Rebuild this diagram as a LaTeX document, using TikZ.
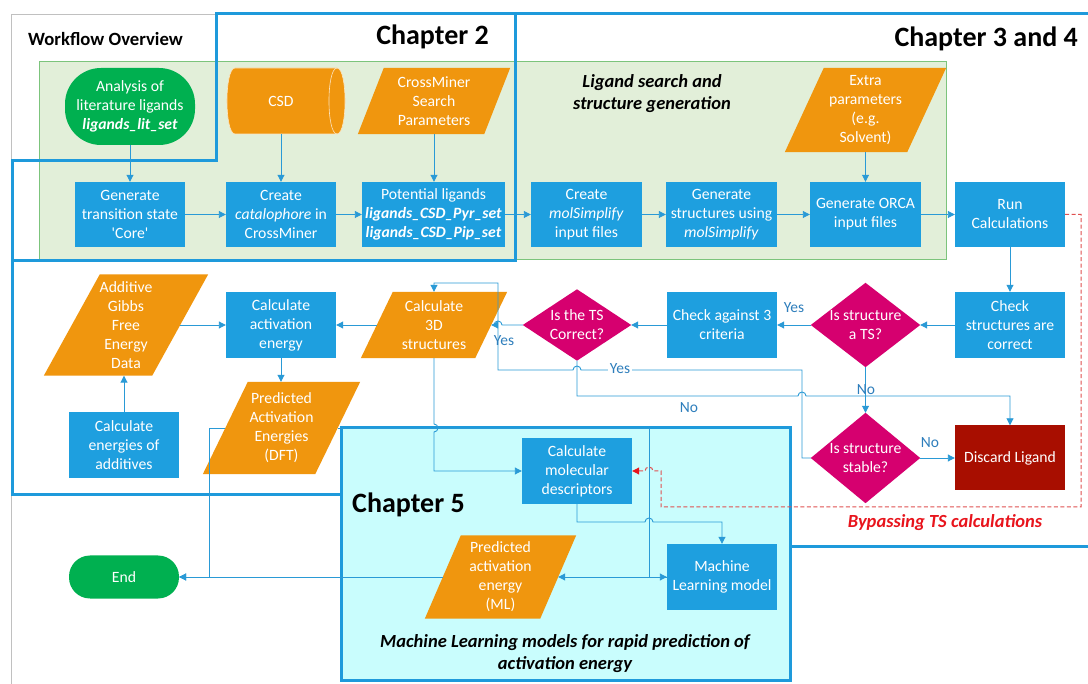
\documentclass[tikz,border=0pt]{standalone}
\usepackage{fontspec}
\setmainfont{Carlito}
\usetikzlibrary{arrows.meta,calc}
\pgfdeclarelayer{back}
\pgfdeclarelayer{mid}
\pgfsetlayers{back,mid,main}

\definecolor{boxblue}{HTML}{1E9FDF}
\definecolor{boxorange}{HTML}{F0960E}
\definecolor{boxmag}{HTML}{D6006F}
\definecolor{termgreen}{HTML}{00B050}
\definecolor{discardred}{HTML}{A80E00}
\definecolor{regiongreen}{HTML}{E2EFD9}
\definecolor{regionedge}{HTML}{7CC47C}
\definecolor{chfivefill}{HTML}{C9FDFD}
\definecolor{chapblue}{HTML}{1E9ADB}
\definecolor{linkblue}{HTML}{2A9AD6}
\definecolor{labelblue}{HTML}{2E7EBC}
\definecolor{bypassred}{HTML}{E8141C}
\definecolor{dashred}{HTML}{E05050}
\definecolor{framegray}{HTML}{C0C0C0}

% data symbol: a named holder node with a slanted orange body behind it
\newcommand\mkpara[6]{%
  \node[txt,minimum width=#3,minimum height=#4] (#1) at #2 {#6};
  \begin{pgfonlayer}{mid}
    \fill[boxorange] ([xshift=#5/2]#1.north west) -- ([xshift=#5/2]#1.north east)
      -- ([xshift=-#5/2]#1.south east) -- ([xshift=-#5/2]#1.south west) -- cycle;
  \end{pgfonlayer}}
% decision symbol: corners sit on the holder node's edge midpoints
\newcommand\mkdiamond[5]{%
  \node[txt,minimum width=#3,minimum height=#4] (#1) at #2 {#5};
  \begin{pgfonlayer}{mid}
    \fill[boxmag] (#1.north) -- (#1.east) -- (#1.south) -- (#1.west) -- cycle;
  \end{pgfonlayer}}

\begin{document}
\begin{tikzpicture}[x=1pt,y=-1pt,
  txt/.style={text=white,font=\fontsize{15.7}{19}\selectfont,align=center,inner sep=0pt},
  stepbox/.style={txt,rectangle,fill=boxblue,minimum width=110,minimum height=66},
  termbox/.style={txt,rectangle,fill=termgreen},
  link/.style={draw=linkblue,line width=0.9pt},
  arr/.style={link,-{Triangle[length=7pt,width=7pt]}},
  lbl/.style={text=labelblue,font=\fontsize{15.5}{18}\selectfont,inner sep=1pt},
  chapter/.style={draw=chapblue,line width=3pt},
  heading/.style={font=\fontsize{28}{33}\selectfont\bfseries,inner sep=0pt},
  caption/.style={font=\fontsize{18.5}{22}\selectfont\bfseries\itshape,align=center,inner sep=0pt},
]
\useasboundingbox (0,0) rectangle (1088,684);

% ---- regions and chapter outlines
\begin{pgfonlayer}{back}
  \fill[white] (0,0) rectangle (1088,684);
  \draw[framegray,line width=1pt] (216,15) -- (11,15) -- (11,684);
  \filldraw[fill=regiongreen,draw=regionedge,line width=0.8pt] (39,61) rectangle (946,259);
  \filldraw[fill=chfivefill,chapter] (341,428) rectangle (790,680);
  \draw[chapter] (216,14) -- (515,14) -- (515,261) -- (12,261) -- (12,161) -- (216,161) -- cycle;
  \draw[chapter] (515,14) -- (1088,14);
  \draw[chapter] (12,261) -- (12,495) -- (341,495);
  \draw[chapter] (790,547) -- (1088,547);
\end{pgfonlayer}

% ---- headings and captions
\node[font=\fontsize{18.7}{22}\selectfont\bfseries,anchor=west,inner sep=0pt] (wo) at (28,39) {Workflow Overview};
\node[heading,anchor=east] (chtwo) at (489,37) {Chapter 2};
\node[heading,anchor=east] (chthree) at (1078,39) {Chapter 3 and 4};
\node[heading,anchor=west] (chfive) at (352,505) {Chapter 5};
\node[caption] (lsg) at (652,94) {Ligand search and\\structure generation};
\node[caption] (mlcap) at (565,653.5) {Machine Learning models for rapid prediction of\\activation energy};
\node[caption,text=bypassred] (bypass) at (945,523) {Bypassing TS calculations};

% ---- inputs of the search
\node[termbox,minimum width=130,minimum height=77,rounded corners=36] (lit) at (130,106.5)
  {Analysis of\\literature ligands\\\textbf{\textit{ligands\_lit\_set}}};
\node[txt,minimum width=110,minimum height=66] (csd) at (281,101) {CSD};
\begin{pgfonlayer}{mid}
  \filldraw[fill=boxorange,draw=white!75!boxorange,line width=0.6pt]
    (235,68) -- (337,68) .. controls (347.7,68) and (347.7,134) .. (337,134)
    -- (235,134) .. controls (224.3,134) and (224.3,68) .. (235,68) -- cycle;
  \draw[white!75!boxorange,line width=0.6pt] (337,68) .. controls (326.3,68) and (326.3,134) .. (337,134);
\end{pgfonlayer}
\mkpara{cms}{(434,101)}{126}{66}{26}{CrossMiner\\Search\\Parameters}
\mkpara{extra}{(865.5,110)}{122}{84}{39}{Extra\\parameters\\(e.g.\\Solvent)}

% ---- top row
\node[stepbox,minimum height=65] (gen) at (130,214.5) {Generate\\transition state\\\textquotesingle Core\textquotesingle};
\node[stepbox,minimum height=65] (create) at (281,214.5) {Create\\\textit{catalophore} in\\CrossMiner};
\node[stepbox,minimum height=65,minimum width=143] (pot) at (433.5,214.5)
  {Potential ligands\\\textbf{\textit{ligands\_CSD\_Pyr\_set}}\\\textbf{\textit{ligands\_CSD\_Pip\_set}}};
\node[stepbox,minimum height=65,minimum width=111] (mols) at (586.5,214.5) {Create\\\textit{molSimplify}\\input files};
\node[stepbox,minimum height=65,minimum width=111] (gstr) at (721.5,214.5) {Generate\\structures using\\\textit{molSimplify}};
\node[stepbox,minimum height=65,minimum width=111] (orca) at (865.5,214.5) {Generate ORCA\\input files};
\node[stepbox,minimum height=65] (run) at (1010,214.5) {Run\\Calculations};

% ---- second row
\mkpara{additive}{(126,325)}{108}{101}{56}{Additive\\Gibbs\\Free\\Energy\\Data}
\node[stepbox] (calcact) at (281,325) {Calculate\\activation\\energy};
\mkpara{calcthree}{(434,325)}{114}{66}{32}{Calculate\\3D\\structures}
\mkdiamond{tsok}{(577,325)}{108}{71}{Is the TS\\Correct?}
\node[stepbox] (chkthree) at (722,325) {Check against 3\\criteria};
\mkdiamond{ists}{(865.5,325)}{109}{84}{Is structure\\a TS?}
\node[stepbox] (chks) at (1010,325) {Check\\structures are\\correct};

% ---- third row
\mkpara{dft}{(281.5,428)}{112}{92}{45}{Predicted\\Activation\\Energies\\(DFT)}
\node[stepbox] (energies) at (124,445) {Calculate\\energies of\\additives};
\node[stepbox] (desc) at (577,471) {Calculate\\molecular\\descriptors};
\mkdiamond{stable}{(865.5,458)}{109}{90}{Is structure\\stable?}
\node[stepbox,fill=discardred,minimum height=65] (discard) at (1010,458) {Discard Ligand};

% ---- bottom row
\node[termbox,minimum width=110,minimum height=43,rounded corners=21] (end) at (124,577) {End};
\mkpara{predml}{(500.5,577)}{115}{83}{36}{Predicted\\activation\\energy\\(ML)};
\node[stepbox] (ml) at (722,577) {Machine\\Learning model};

% ---- connectors
\draw[arr] (lit) -- (gen);
\draw[arr] (csd) -- (create);
\draw[arr] (cms.south) -- (cms.south |- pot.north);
\draw[arr] (extra.south) -- (extra.south |- orca.north);
\draw[arr] (gen) -- (create);
\draw[arr] (create) -- (pot);
\draw[arr] (pot) -- (mols);
\draw[arr] (mols) -- (gstr);
\draw[arr] (gstr) -- (orca);
\draw[arr] (orca) -- (run);
\draw[arr] (run) -- (chks);
\draw[arr] (chks) -- (ists);
\draw[arr] (ists) -- (chkthree);
\draw[arr] (chkthree) -- (tsok);
\draw[arr] (tsok.west) -- (502,325) arc (0:180:4pt) -- (calcthree.east);
\draw[arr] (calcthree) -- (calcact);
\draw[arr] (additive) -- (calcact);
\draw[arr] (energies.north) -- (energies.north |- additive.south);
\draw[arr] (calcact.south) -- (calcact.south |- dft.north);
\draw[arr] (ists) -- (stable);
\draw[arr] (stable) -- (discard);
\draw[arr] (stable.west) -- (802,458) -- (802,370) -- (581,370) arc (0:180:4pt)
  -- (498,370) -- (498,283) -- (434,283) -- (calcthree.north);
\draw[arr] (tsok.south) -- (577,396) -- (798,396) arc (180:0:4pt) -- (1010,396) -- (discard.north);
\draw[arr] (calcthree.south) -- (434,424) arc (90:-90:4pt) -- (434,471) -- (desc.west);
\draw[arr] (dft.west) -- (209,428) -- (209,577) -- (end.east);
\draw[arr] (dft.east) -- (649,428) -- (649,577) -- (ml.west);
\draw[arr] (ml.west) -- (predml.east);
\draw[arr] (predml.west) -- (end.east);
\draw[arr] (desc.south) -- (577,522) -- (645,522) arc (180:0:4pt) -- (722,522) -- (ml.north);
\draw[dashred,dash pattern=on 4pt off 2.5pt,line width=1pt,
      -{Triangle[length=7pt,width=7pt,color=bypassred,fill=bypassred]}]
  (run.east) -- (1081,214.5) -- (1081,507) -- (661,507) -- (661,471) -- (653,471) arc (0:180:4pt) -- (desc.east);

% ---- branch labels
\node[lbl] (yesa) at (794,308) {Yes};
\node[lbl] (yesb) at (504,341) {Yes};
\node[lbl,fill=white,inner sep=1.5pt] (yesc) at (620,369) {Yes};
\node[lbl] (noa) at (689,408) {No};
\node[lbl] (nob) at (866,390) {No};
\node[lbl] (noc) at (930,443) {No};
\end{tikzpicture}
\end{document}
